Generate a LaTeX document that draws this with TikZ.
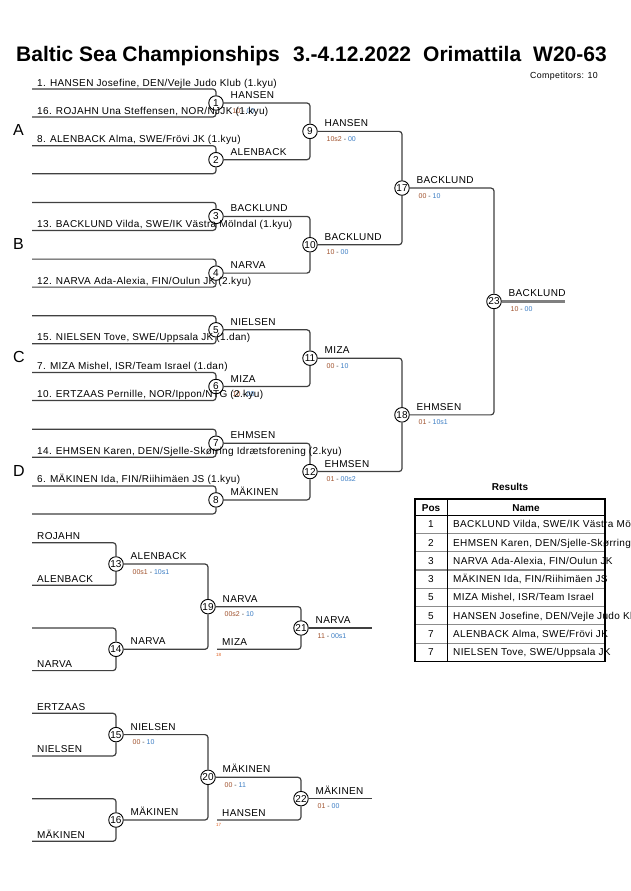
\documentclass[tikz,border=0pt]{standalone}
\usepackage{fontspec}
\setmainfont{Liberation Sans}
\usetikzlibrary{calc}
\definecolor{lc}{HTML}{404040}
\definecolor{scA}{HTML}{A0522D}
\definecolor{scB}{HTML}{3B7DC4}
\definecolor{tinyc}{HTML}{E06020}
\definecolor{fgray}{HTML}{808080}
\definecolor{rowg}{HTML}{8C8C8C}
\newcommand{\nsize}{\fontsize{10}{12}\selectfont\addfontfeature{LetterSpace=3.5}}
\tikzset{
 br/.style={draw=lc, line width=1.2pt, rounded corners=3pt},
 circ/.style={circle, draw=black, line width=0.9pt, fill=white, minimum size=14.5pt, inner sep=0.5pt, font=\fontsize{10}{12}\selectfont},
 ent/.style={anchor=base west, inner sep=0pt, font=\nsize},
 wlabel/.style={anchor=base west, inner sep=0pt, font=\nsize},
 slabel/.style={anchor=base west, inner sep=0pt, font=\fontsize{7}{8}\selectfont, text=lc},
 tlabel/.style={anchor=base west, inner sep=0pt, font=\fontsize{4.5}{5}\selectfont, text=tinyc},
 pool/.style={anchor=base west, inner sep=0pt, font=\fontsize{16}{18}\selectfont},
 ttl/.style={anchor=base west, inner sep=0pt, font=\fontsize{21}{24}\selectfont\bfseries},
 cell/.style={anchor=base west, inner sep=0pt, font=\nsize},
 cellc/.style={anchor=base, inner sep=0pt, font=\nsize},
 hcell/.style={anchor=base, inner sep=0pt, font=\fontsize{10}{12}\selectfont\bfseries},
}
\newcommand{\wlb}[2]{\node[wlabel] (w#1) at ($(m#1)+(14.5,-4.5)$) {#2};}
\newcommand{\scr}[3]{\node[slabel] (s#1) at ($(m#1)+(16.5,10)$) {\textcolor{scA}{#2} - \textcolor{scB}{#3}};}
\begin{document}
\begin{tikzpicture}[x=1pt,y=-1pt]
\useasboundingbox (0,0) rectangle (630,891);
\clip (0,0) rectangle (630,891);
\fill[white] (0,0) rectangle (630,891);

% title
\node[ttl] (t1) at (16,61.7) {Baltic Sea Championships};
\node[ttl] (t2) at (293,61.7) {3.-4.12.2022};
\node[ttl] (t3) at (423,61.7) {Orimattila};
\node[ttl] (t4) at (533,61.7) {W20-63};
\node[anchor=base west, inner sep=0pt, font=\fontsize{8.8}{10}\selectfont\addfontfeature{LetterSpace=4}] (comp) at (530,78.5) {Competitors: 10};

% circles
\foreach \n/\x/\y in {1/216/103, 2/216/159.7, 3/216/216.4, 4/216/273.1, 5/216/329.8, 6/216/386.5, 7/216/443.2, 8/216/499.9,
  9/310/131.35, 10/310/244.75, 11/310/358.15, 12/310/471.55, 17/402/188.05, 18/402/414.85, 23/494/301.45,
  13/116/564, 14/116/649.3, 15/116/734.6, 16/116/820, 19/208/606.65, 20/208/777.3, 21/301/628, 22/301/798.65}
  \node[circ] (m\n) at (\x,\y) {\n};

% first round connectors
\foreach \i/\y in {1/103, 2/159.7, 3/216.4, 4/273.1, 5/329.8, 6/386.5, 7/443.2, 8/499.9} {
  \coordinate (a\i) at (32,{\y-14});
  \coordinate (b\i) at (32,{\y+14});
  \draw[br] (a\i) -| (m\i);
  \draw[br] (b\i) -| (m\i);
}
\draw[br] (m1) -| (m9);  \draw[br] (m2) -| (m9);
\draw[br] (m3) -| (m10); \draw[br] (m4) -| (m10);
\draw[br] (m5) -| (m11); \draw[br] (m6) -| (m11);
\draw[br] (m7) -| (m12); \draw[br] (m8) -| (m12);
\draw[br] (m9) -| (m17); \draw[br] (m10) -| (m17);
\draw[br] (m11) -| (m18); \draw[br] (m12) -| (m18);
\draw[br] (m17) -| (m23); \draw[br] (m18) -| (m23);
\coordinate (f23) at (565,301.45);
\draw[fgray, line width=2.4pt] (m23) -- (f23);

% repechage connectors
\foreach \i/\y in {13/564, 14/649.3, 15/734.6, 16/820} {
  \coordinate (a\i) at (32,{\y-21.3});
  \coordinate (b\i) at (32,{\y+21.3});
  \draw[br] (a\i) -| (m\i);
  \draw[br] (b\i) -| (m\i);
}
\draw[br] (m13) -| (m19); \draw[br] (m14) -| (m19);
\draw[br] (m15) -| (m20); \draw[br] (m16) -| (m20);
\draw[br] (m19) -| (m21);
\coordinate (q21) at (217,649.3); \draw[br] (q21) -| (m21);
\draw[br] (m20) -| (m22);
\coordinate (q22) at (217,820); \draw[br] (q22) -| (m22);
\coordinate (f21) at (372,628); \draw[br] (m21) -- (f21);
\coordinate (f22) at (372,798.65); \draw[br] (m22) -- (f22);

% pool letters
\node[pool] (pA) at (13,135.8) {A};
\node[pool] (pB) at (13,249.2) {B};
\node[pool] (pC) at (13,362.6) {C};
\node[pool] (pD) at (13,476) {D};

% winner labels and scores
\scr{1}{10}{00}
\scr{6}{10}{00}
\wlb{1}{HANSEN} \wlb{2}{ALENBACK} \wlb{3}{BACKLUND} \wlb{4}{NARVA}
\wlb{5}{NIELSEN} \wlb{6}{MIZA} \wlb{7}{EHMSEN} \wlb{8}{MÄKINEN}
\wlb{9}{HANSEN} \scr{9}{10s2}{00}
\wlb{10}{BACKLUND} \scr{10}{10}{00}
\wlb{11}{MIZA} \scr{11}{00}{10}
\wlb{12}{EHMSEN} \scr{12}{01}{00s2}
\wlb{17}{BACKLUND} \scr{17}{00}{10}
\wlb{18}{EHMSEN} \scr{18}{01}{10s1}
\wlb{23}{BACKLUND} \scr{23}{10}{00}
\wlb{13}{ALENBACK} \scr{13}{00s1}{10s1}
\wlb{14}{NARVA}
\wlb{19}{NARVA} \scr{19}{00s2}{10}
\wlb{21}{NARVA} \scr{21}{11}{00s1}
\wlb{15}{NIELSEN} \scr{15}{00}{10}
\wlb{16}{MÄKINEN}
\wlb{20}{MÄKINEN} \scr{20}{00}{11}
\wlb{22}{MÄKINEN} \scr{22}{01}{00}
\node[wlabel] (x21) at (222,645.5) {MIZA};
\node[tlabel] (y21) at (216,656) {18};
\node[wlabel] (x22) at (222,816) {HANSEN};
\node[tlabel] (y22) at (216,826.5) {17};

% entry texts
\node[ent] (e1) at (37,86) {1. HANSEN Josefine, DEN/Vejle Judo Klub (1.kyu)};
\node[ent] (e2) at (37,114) {16. ROJAHN Una Steffensen, NOR/NJJK (1.kyu)};
\node[ent] (e3) at (37,142.7) {8. ALENBACK Alma, SWE/Frövi JK (1.kyu)};
\node[ent] (e4) at (37,227.4) {13. BACKLUND Vilda, SWE/IK Västra Mölndal (1.kyu)};
\node[ent] (e5) at (37,284.1) {12. NARVA Ada-Alexia, FIN/Oulun JK (2.kyu)};
\node[ent] (e6) at (37,340.8) {15. NIELSEN Tove, SWE/Uppsala JK (1.dan)};
\node[ent] (e7) at (37,369.5) {7. MIZA Mishel, ISR/Team Israel (1.dan)};
\node[ent] (e8) at (37,397.5) {10. ERTZAAS Pernille, NOR/Ippon/NTG (2.kyu)};
\node[ent] (e9) at (37,454.2) {14. EHMSEN Karen, DEN/Sjelle-Skørring Idrætsforening (2.kyu)};
\node[ent] (e10) at (37,482.9) {6. MÄKINEN Ida, FIN/Riihimäen JS (1.kyu)};

\node[ent] (r1) at (37,539.7) {ROJAHN};
\node[ent] (r2) at (37,582.3) {ALENBACK};
\node[ent] (r3) at (37,667.3) {NARVA};
\node[ent] (r4) at (37,710.3) {ERTZAAS};
\node[ent] (r5) at (37,752.9) {NIELSEN};
\node[ent] (r6) at (37,838.3) {MÄKINEN};

% results table
\node[anchor=base, inner sep=0pt, font=\fontsize{10}{12}\selectfont\bfseries] (res) at (510,490) {Results};
\foreach \k in {1,...,7}
  \draw[rowg, line width=1.2pt] (415,{515+18.3*\k}) -- (605,{515+18.3*\k});
\draw[black, line width=1pt] (415,515) -- (605,515);
\draw[black, line width=0.8pt] (447,499) -- (447,661.4);
\node[hcell] (hp) at (431,511.5) {Pos};
\node[hcell] (hn) at (526,511.5) {Name};
\foreach \k/\p/\t in {1/1/{BACKLUND Vilda, SWE/IK Västra Mölndal},
  2/2/{EHMSEN Karen, DEN/Sjelle-Skørring Idrætsforening},
  3/3/{NARVA Ada-Alexia, FIN/Oulun JK},
  4/3/{MÄKINEN Ida, FIN/Riihimäen JS},
  5/5/{MIZA Mishel, ISR/Team Israel},
  6/5/{HANSEN Josefine, DEN/Vejle Judo Klub},
  7/7/{ALENBACK Alma, SWE/Frövi JK},
  8/7/{NIELSEN Tove, SWE/Uppsala JK}} {
  \node[cellc] (p\k) at (431,{515+18.3*(\k-0.5)+3.6}) {\p};
  \node[cell] (n\k) at (453,{515+18.3*(\k-0.5)+3.6}) {\t};
}
\draw[black, line width=1.6pt] (415,499) rectangle (605,661.4);
\end{tikzpicture}
\end{document}
